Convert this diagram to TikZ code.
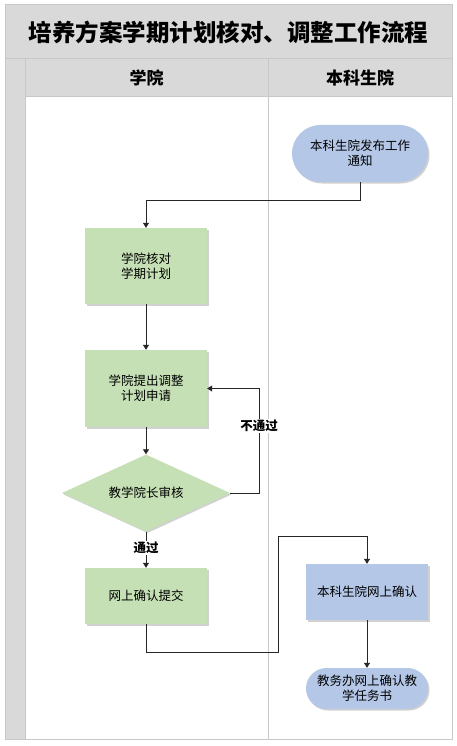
\documentclass[tikz,border=0pt]{standalone}
\usepackage{fontspec}
\setmainfont{Noto Sans CJK SC}
\usetikzlibrary{shapes.geometric,shapes.misc,shadows,arrows.meta}
\definecolor{hdr}{HTML}{D9D9D9}
\definecolor{lane}{HTML}{C8C8C8}
\definecolor{grn}{HTML}{C5E0B4}
\definecolor{blu}{HTML}{B4C7E7}
\tikzset{
  every node/.style={font=\fontsize{12.5}{15}\selectfont, align=center, inner sep=0pt},
  shd/.style={drop shadow={shadow xshift=1.5pt, shadow yshift=-1.5pt, fill=black, opacity=0.18}},
  gbox/.style={rectangle, fill=grn, minimum width=122pt, shd},
  bbox/.style={rectangle, fill=blu, minimum width=122pt, shd},
  term/.style={rounded rectangle, fill=blu, shd},
  dec/.style={diamond, fill=grn, aspect=2.2, minimum width=168pt, minimum height=77pt, shd},
  conn/.style={draw=black!85, line width=0.8pt, -{Triangle[length=5pt,width=6pt]}},
  lbl/.style={font=\bfseries\fontsize{12.5}{15}\selectfont, fill=white, inner sep=1pt},
}
\begin{document}
\begin{tikzpicture}[x=1pt,y=-1pt]
\useasboundingbox (0,0) rectangle (457,746);
\fill[white] (0,0) rectangle (457,746);
% frame
\fill[hdr] (5,5) rectangle (452,59);
\fill[hdr] (5,59) rectangle (25,739);
\fill[hdr] (25,59) rectangle (452,97);
\draw[lane, line width=1pt] (5,5) rectangle (452,739);
\draw[lane, line width=1pt] (5,59) -- (452,59);
\draw[lane, line width=1pt] (25,59) -- (25,739);
\draw[lane, line width=1pt] (25,97) -- (452,97);
\draw[lane, line width=1pt] (268,59) -- (268,739);
\node[font=\bfseries\fontsize{23.5}{26}\selectfont] (title) at (228.5,32) {培养方案学期计划核对、调整工作流程};
\node[font=\bfseries\fontsize{17}{20}\selectfont] (h1) at (146.5,78) {学院};
\node[font=\bfseries\fontsize{17}{20}\selectfont] (h2) at (360,78) {本科生院};
% nodes
\node[term, minimum width=136pt, minimum height=57pt] (start) at (360,153.5) {本科生院发布工作\\通知};
\node[gbox, minimum height=76pt] (b1) at (146,266) {学院核对\\学期计划};
\node[gbox, minimum height=77pt] (b2) at (146,388.5) {学院提出调整\\计划申请};
\node[dec] (d) at (146,493) {教学院长审核};
\node[gbox, minimum height=56pt] (b3) at (146,596) {网上确认提交};
\node[bbox, minimum height=56pt] (b4) at (367,592) {本科生院网上确认};
\node[term, minimum width=122pt, minimum height=41pt] (end) at (367,688.5) {教务办网上确认教\\学任务书};
% connectors
\draw[conn] (start.south) |- (146,200) -- (b1.north);
\draw[conn] (b1.south) -- (b2.north);
\draw[conn] (b2.south) -- (d.north);
\draw[conn] (d.east) -- (259,493) |- (b2.east) node[lbl, pos=0.32] (no) {不通过};
\draw[conn] (d.south) -- (b3.north) node[lbl, pos=0.45] (yes) {通过};
\draw[conn] (b3.south) |- (278,652) |- (367,536) -- (b4.north);
\draw[conn] (b4.south) -- (end.north);
\end{tikzpicture}
\end{document}
